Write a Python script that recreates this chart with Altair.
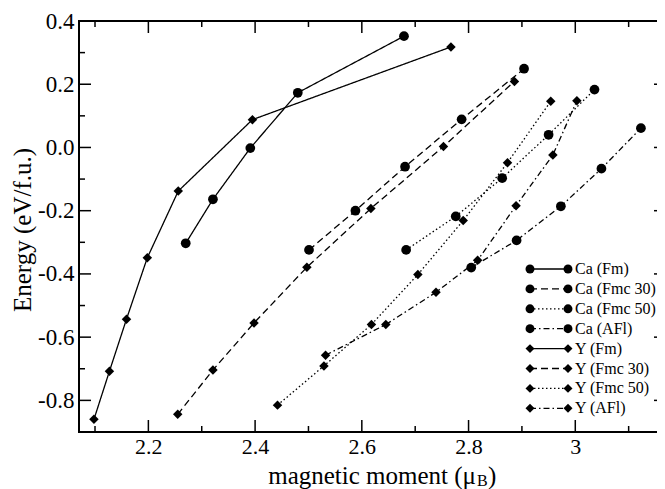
import altair as alt
import pandas as pd

# ---------------- data ----------------
series_names = ["Ca (Fm)", "Ca (Fmc 30)", "Ca (Fmc 50)", "Ca (AFl)",
                "Y (Fm)", "Y (Fmc 30)", "Y (Fmc 50)", "Y (AFl)"]
series_marker = ["circle", "circle", "circle", "circle",
                 "diamond", "diamond", "diamond", "diamond"]
series_style = ["Fm", "Fmc 30", "Fmc 50", "AFl", "Fm", "Fmc 30", "Fmc 50", "AFl"]

ca_fm_x = [2.270, 2.321, 2.391, 2.480, 2.679]
ca_fm_y = [-0.303, -0.164, -0.002, 0.173, 0.352]
ca_fmc30_x = [2.501, 2.588, 2.681, 2.787, 2.904]
ca_fmc30_y = [-0.324, -0.200, -0.061, 0.089, 0.249]
ca_fmc50_x = [2.683, 2.776, 2.863, 2.950, 3.036]
ca_fmc50_y = [-0.324, -0.218, -0.097, 0.040, 0.183]
ca_afl_x = [2.805, 2.890, 2.973, 3.049, 3.123]
ca_afl_y = [-0.380, -0.294, -0.186, -0.067, 0.061]

y_fm_x = [2.098, 2.127, 2.159, 2.198, 2.256, 2.395, 2.767]
y_fm_y = [-0.860, -0.708, -0.543, -0.349, -0.138, 0.088, 0.318]
y_fmc30_x = [2.255, 2.321, 2.398, 2.497, 2.617, 2.753, 2.886]
y_fmc30_y = [-0.844, -0.704, -0.555, -0.379, -0.193, 0.003, 0.209]
y_fmc50_x = [2.442, 2.529, 2.618, 2.705, 2.790, 2.873, 2.954]
y_fmc50_y = [-0.815, -0.691, -0.560, -0.402, -0.231, -0.048, 0.146]
y_afl_x = [2.532, 2.645, 2.739, 2.817, 2.889, 2.958, 3.003]
y_afl_y = [-0.657, -0.560, -0.458, -0.357, -0.184, -0.024, 0.148]

series_x = [ca_fm_x, ca_fmc30_x, ca_fmc50_x, ca_afl_x, y_fm_x, y_fmc30_x, y_fmc50_x, y_afl_x]
series_y = [ca_fm_y, ca_fmc30_y, ca_fmc50_y, ca_afl_y, y_fm_y, y_fmc30_y, y_fmc50_y, y_afl_y]

x_major = [2.2, 2.4, 2.6, 2.8, 3.0]
x_minor = [2.1, 2.3, 2.5, 2.7, 2.9, 3.1]
y_labels = [-0.8, -0.6, -0.4, -0.2, 0.0, 0.2, 0.4]
y_major = [-0.8, -0.6, -0.4, -0.2, 0.0, 0.2]
y_minor = [-0.7, -0.5, -0.3, -0.1, 0.1, 0.3]

x_title_main = "magnetic moment (μ"
x_title_sub = "B"
x_title_end = ")"
y_title = "Energy (eV/f.u.)"

# ---------------- tables ----------------
rows = []
for name, mk, st, xv, yv in zip(series_names, series_marker, series_style, series_x, series_y):
    for i, (a, b) in enumerate(zip(xv, yv)):
        rows.append({"series": name, "marker": mk, "style": st, "order": i, "x": a, "y": b})
df = pd.DataFrame(rows)
leg_df = pd.DataFrame({"series": series_names, "marker": series_marker,
                       "style": series_style, "row": list(range(len(series_names)))})

# ---------------- styling / layout ----------------
W, H = 587, 411
FONT = "Liberation Serif"
MAJ, MIN = 12, 6
LEG_X1, LEG_X2, LEG_TX = 451, 489, 496
LEG_Y0, LEG_DY = 248, 19.9

X_SCALE = alt.Scale(domain=[2.07, 3.170], nice=False, zero=False)
Y_SCALE = alt.Scale(domain=[-0.9, 0.4], nice=False, zero=False)
X_AXIS = alt.Axis(values=x_major, labelExpr="format(datum.value, '~g')", ticks=False,
                  domain=False, grid=False, title=None, labelFont=FONT, labelFontSize=22,
                  labelColor="black", labelPadding=4, labelFlush=False)
Y_AXIS = alt.Axis(values=y_labels,
                  labelExpr="(datum.value < 0 ? '-' : '') + format(abs(datum.value), '.1f')",
                  ticks=False, domain=False, grid=False, title=None,
                  labelFont=FONT, labelFontSize=23, labelColor="black",
                  labelPadding=5, labelFlush=False)
DASH_SCALE = alt.Scale(domain=["Fm", "Fmc 30", "Fmc 50", "AFl"],
                       range=[[1, 0], [7, 4], [1.5, 2.5], [6, 3, 1.5, 3]])
SHAPE_SCALE = alt.Scale(domain=["circle", "diamond"], range=["circle", "diamond"])

X = alt.X("x:Q", scale=X_SCALE, axis=X_AXIS)
Y = alt.Y("y:Q", scale=Y_SCALE, axis=Y_AXIS)

lines = alt.Chart(df).mark_line(color="black", strokeWidth=1.3).encode(
    x=X, y=Y, detail="series:N", order="order:Q",
    strokeDash=alt.StrokeDash("style:N", scale=DASH_SCALE, legend=None),
)
circles = alt.Chart(df).transform_filter(alt.datum.marker == "circle").mark_point(
    shape="circle", filled=True, color="black", opacity=1, size=95).encode(x=X, y=Y)
diamonds = alt.Chart(df).transform_filter(alt.datum.marker == "diamond").mark_point(
    shape="diamond", filled=True, color="black", opacity=1, size=90).encode(x=X, y=Y)


def xticks(vals, y0, y1):
    return alt.Chart(pd.DataFrame({"v": vals})).mark_rule(color="black", strokeWidth=1.5).encode(
        x=alt.X("v:Q", scale=X_SCALE, axis=X_AXIS), y=alt.value(y0), y2=alt.value(y1))


def yticks(vals, x0, x1):
    return alt.Chart(pd.DataFrame({"v": vals})).mark_rule(color="black", strokeWidth=1.5).encode(
        y=alt.Y("v:Q", scale=Y_SCALE, axis=Y_AXIS), x=alt.value(x0), x2=alt.value(x1))


tick_layers = [
    xticks(x_major, H, H - MAJ), xticks(x_minor, H, H - MIN),
    xticks(x_major, 0, MAJ), xticks(x_minor, 0, MIN),
    yticks(y_major, 0, MAJ), yticks(y_minor, 0, MIN),
    yticks(y_major, W, W - MAJ), yticks(y_minor, W, W - MIN),
]

# ---------------- legend ----------------
leg_base = alt.Chart(leg_df).transform_calculate(ly=f"{LEG_Y0} + datum.row * {LEG_DY}")
LY = alt.Y("ly:Q", scale=None, axis=None)
leg_rule = leg_base.mark_rule(color="black", strokeWidth=1.3).encode(
    x=alt.value(LEG_X1), x2=alt.value(LEG_X2), y=LY,
    strokeDash=alt.StrokeDash("style:N", scale=DASH_SCALE, legend=None))
leg_pts = [
    leg_base.mark_point(filled=True, color="black", opacity=1, size=80).encode(
        x=alt.value(px), y=LY,
        shape=alt.Shape("marker:N", scale=SHAPE_SCALE, legend=None))
    for px in (LEG_X1, LEG_X2)
]
leg_text = leg_base.mark_text(align="left", baseline="middle", font=FONT, fontSize=16,
                              color="black").encode(x=alt.value(LEG_TX), y=LY, text="series:N")

# ---------------- axis titles ----------------
XT_X, XT_Y = 397, 462.5
t_df = pd.DataFrame({"a": [x_title_main], "b": [x_title_sub], "c": [x_title_end], "y": [y_title]})
xt1 = alt.Chart(t_df).mark_text(align="right", baseline="alphabetic", font=FONT, fontSize=25,
                                color="black").encode(x=alt.value(XT_X), y=alt.value(XT_Y), text="a:N")
xt2 = alt.Chart(t_df).mark_text(align="left", baseline="alphabetic", font=FONT, fontSize=16,
                                color="black").encode(x=alt.value(XT_X + 1), y=alt.value(XT_Y + 2), text="b:N")
xt3 = alt.Chart(t_df).mark_text(align="left", baseline="alphabetic", font=FONT, fontSize=25,
                                color="black").encode(x=alt.value(XT_X + 12), y=alt.value(XT_Y), text="c:N")
yt = alt.Chart(t_df).mark_text(align="center", baseline="bottom", angle=270, font=FONT,
                               fontSize=25, fontWeight="normal", color="black").encode(
    x=alt.value(-43), y=alt.value(209), text="y:N")

chart = alt.layer(
    lines, circles, diamonds, *tick_layers, leg_rule, *leg_pts, leg_text, xt1, xt2, xt3, yt
).properties(
    width=W, height=H,
    padding={"left": 71, "top": 13, "right": -9, "bottom": 57},
    autosize=alt.AutoSizeParams(type="none"),
    background="white",
).configure_view(stroke="black", strokeWidth=2)

chart.save("out.html", embed_options={"renderer": "svg", "actions": False})
